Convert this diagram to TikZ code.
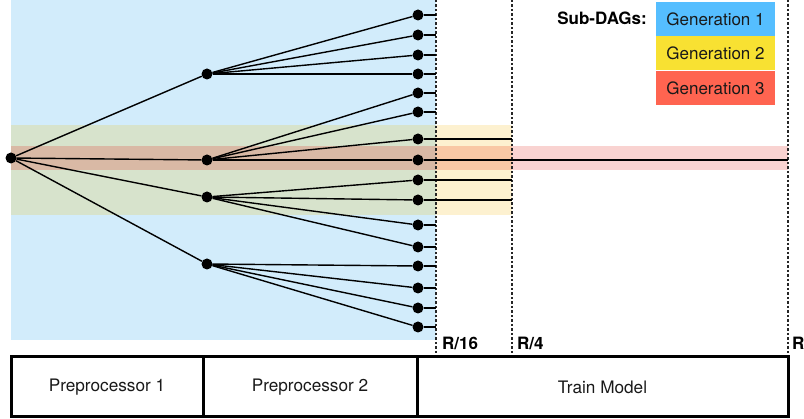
\documentclass[tikz,border=0pt]{standalone}
\usepackage{fontspec}
\setmainfont{TeX Gyre Heros}
\definecolor{gen1}{HTML}{55BEFF}
\definecolor{gen2}{HTML}{F8E132}
\definecolor{gen3}{HTML}{FF6450}
\definecolor{bgblue}{HTML}{D2ECFB}
\definecolor{bggreen}{HTML}{D7E3CC}
\definecolor{bgyellow}{HTML}{FDF1D0}
\definecolor{bgredA}{HTML}{D9B9A5}
\definecolor{bgredB}{HTML}{F9C8A5}
\definecolor{bgredC}{HTML}{F9D3D1}
\begin{document}
\begin{tikzpicture}[x=1pt,y=-1pt,
  dot/.style={circle,fill=black,inner sep=0pt,minimum size=11pt},
  edge/.style={line width=1.4pt,black},
  sep/.style={line width=1.2pt,dash pattern=on 2.5pt off 2pt,black!85},
  stagebox/.style={draw,line width=3pt,minimum height=60pt,font=\fontsize{17.2}{19}\selectfont,text=black!90},
  legbox/.style={minimum width=119pt,minimum height=34pt,inner sep=0pt,font=\fontsize{17}{19}\selectfont,text=black!90},
  lbl/.style={font=\bfseries\fontsize{17}{19}\selectfont,inner sep=0pt}]
\useasboundingbox (0,0) rectangle (804,419);
% background sub-DAG regions
\fill[bgblue] (11,0) rectangle (436,340);
\fill[bggreen] (11,125) rectangle (436,215);
\fill[bgyellow] (436,125) rectangle (512,215);
\fill[bgredA] (11,146) rectangle (436,170);
\fill[bgredB] (436,146) rectangle (512,170);
\fill[bgredC] (512,146) rectangle (788,170);
% separators
\coordinate (d1t) at (436,0); \coordinate (d1b) at (436,357);
\coordinate (d2t) at (512,0); \coordinate (d2b) at (512,357);
\coordinate (d3t) at (788,0); \coordinate (d3b) at (788,357);
\draw[sep] (d1t) -- (d1b);
\draw[sep] (d2t) -- (d2b);
\draw[sep] (d3t) -- (d3b);
\node[lbl,anchor=west] (r16) at (442,343) {R/16};
\node[lbl,anchor=west] (r4) at (517,343) {R/4};
\node[lbl,anchor=west] (rr) at (792,343) {R};
% nodes
\node[dot] (root) at (11,158) {};
\node[dot] (A) at (207,74) {};
\node[dot] (B) at (207,160) {};
\node[dot] (C) at (207,197) {};
\node[dot] (D) at (207,264) {};
\foreach \i/\y in {1/15,2/35,3/55,4/74,5/93,6/112,7/139,8/160,9/180,10/200,11/225,12/247,13/266,14/288,15/308,16/327}{
  \node[dot] (l\i) at (418,\y) {};
  \coordinate (s\i) at (436,\y);
}
\coordinate (e7) at (512,139);
\coordinate (e8) at (788,160);
\coordinate (e9) at (512,180);
\coordinate (e10) at (512,200);
% edges
\foreach \n in {A,B,C,D}{\draw[edge] (root) -- (\n);}
\foreach \i in {1,2,3,4}{\draw[edge] (A) -- (l\i);}
\foreach \i in {5,6,7,8}{\draw[edge] (B) -- (l\i);}
\foreach \i in {9,10,11,12}{\draw[edge] (C) -- (l\i);}
\foreach \i in {13,14,15,16}{\draw[edge] (D) -- (l\i);}
\foreach \i in {1,2,3,4,5,6,11,12,13,14,15,16}{\draw[edge] (l\i) -- (s\i);}
\draw[edge] (l7) -- (e7);
\draw[edge] (l8) -- (e8);
\draw[edge] (l9) -- (e9);
\draw[edge] (l10) -- (e10);
% stage boxes
\node[stagebox,minimum width=192pt] (p1) at (107,387) {Preprocessor 1};
\node[stagebox,minimum width=214pt] (p2) at (310,387) {Preprocessor 2};
\node[stagebox,minimum width=371pt] (tm) at (602.5,387) {Train Model};
% legend
\node[legbox,fill=gen1] (g1) at (715.5,19) {Generation 1};
\node[legbox,fill=gen2] (g2) at (715.5,53.5) {Generation 2};
\node[legbox,fill=gen3] (g3) at (715.5,88) {Generation 3};
\node[lbl,anchor=east] (sub) at (647,18) {Sub-DAGs:};
\end{tikzpicture}
\end{document}
